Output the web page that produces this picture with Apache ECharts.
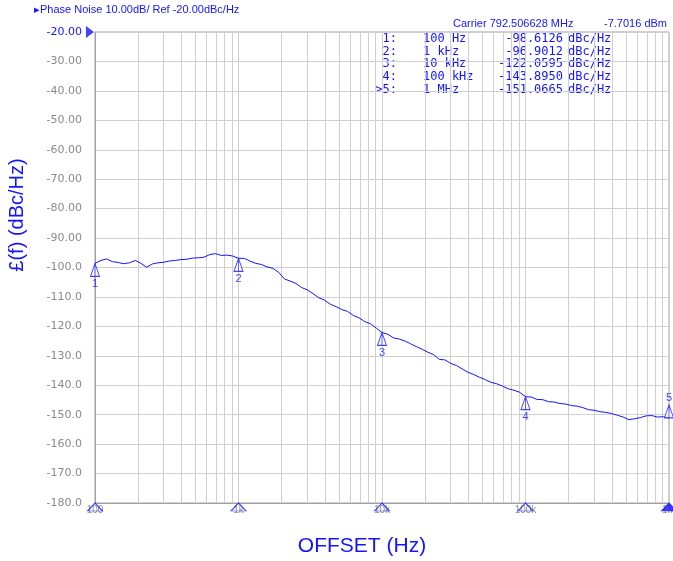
<!DOCTYPE html>
<html><head><meta charset="utf-8">
<script src="https://cdn.jsdelivr.net/npm/echarts@6/dist/echarts.min.js"></script>
<style>html,body{margin:0;padding:0;background:#fff}#c{width:673px;height:561px}</style>
</head><body><div id="c"></div>
<script>
const freqs = [100,110,120,132,145,158,174,191,209,229,251,275,302,331,363,398,437,479,525,575,631,692,759,832,912,
1000,1100,1200,1320,1450,1580,1740,1910,2090,2290,2510,2750,3020,3310,3630,3980,4370,4790,5250,5750,6310,6920,7590,8320,9120,
10000,11000,12000,13200,14500,15800,17400,19100,20900,22900,25100,27500,30200,33100,36300,39800,43700,47900,52500,57500,63100,69200,75900,83200,91200,
100000,110000,120000,132000,145000,158000,174000,191000,209000,229000,251000,275000,302000,331000,363000,398000,437000,479000,525000,575000,631000,692000,759000,832000,912000,
1000000];
const noise = [-98.6,-97.6,-97.1,-98.0,-98.3,-98.7,-98.4,-97.6,-98.6,-99.9,-98.8,-98.4,-98.2,-97.8,-97.6,-97.3,-97.2,-96.8,-96.7,-96.5,-95.6,-95.3,-95.9,-95.8,-96.1,
-96.9,-96.9,-97.8,-98.6,-99.0,-99.8,-100.3,-101.7,-103.9,-104.6,-105.4,-106.8,-107.6,-108.9,-110.3,-111.1,-112.5,-113.3,-114.3,-114.9,-116.3,-117.1,-118.4,-119.1,-120.6,
-122.1,-122.7,-123.9,-124.3,-125.0,-125.9,-126.9,-127.8,-128.8,-129.6,-131.2,-131.4,-132.6,-133.3,-134.5,-135.6,-136.4,-137.3,-138.1,-139.0,-139.5,-140.3,-141.2,-141.7,-142.4,
-143.9,-144.0,-144.8,-144.9,-145.6,-145.7,-146.2,-146.4,-146.9,-147.1,-147.6,-148.3,-148.5,-149.0,-149.2,-149.6,-150.2,-150.8,-151.7,-151.4,-151.0,-150.4,-150.3,-150.8,-150.7,-151.1];
const markerFreqs = [100,1000,10000,100000,1000000];
const markerVals = [-98.6126,-96.9012,-122.0595,-143.8950,-151.0665];
const markerIdx = ['1:','2:','3:','4:','>5:'];
const markerFreqText = ['100 Hz','1 kHz','10 kHz','100 kHz','1 MHz'];
const markerValText = ['-98.6126','-96.9012','-122.0595','-143.8950','-151.0665'];
const xTickText = {100:'100',1000:'1k',10000:'10k',100000:'100k',1000000:'1M'};
const minorGrid = [200,300,400,500,600,700,800,900,2000,3000,4000,5000,6000,7000,8000,9000,
20000,30000,40000,50000,60000,70000,80000,90000,200000,300000,400000,500000,600000,700000,800000,900000];
const yMin = -180, yMax = -20, yStep = 10;

const BLUE = '#1414ff';
const GRID = '#cfcfcf';
const chart = echarts.init(document.getElementById('c'));

const tri = 'path://M5,0 L10,12 L0,12 Z M5,0 L5,12';
const markerData = markerFreqs.map((f,i)=>{
  const last = i === markerFreqs.length-1;
  return {
    value:[f, markerVals[i]],
    symbolOffset: last ? [0,'-50%'] : [0,'50%'],
    label:{position: last ? 'top' : 'bottom', distance: 1}
  };
});
const axisMarkData = markerFreqs.map((f,i)=>({
  value:[f, yMin],
  itemStyle:{color: i===markerFreqs.length-1 ? BLUE : 'rgba(0,0,0,0)'}
}));

const tableTexts = [];
markerIdx.forEach((t,i)=>{
  const y = 40 + i*12.6;
  tableTexts.push({type:'text', right:673-397, top:y-7, style:{text:t, fill:BLUE, font:'12px "DejaVu Sans Mono"', textAlign:'right'}});
  tableTexts.push({type:'text', left:423, top:y-7, style:{text:markerFreqText[i], fill:BLUE, font:'12px "DejaVu Sans Mono"'}});
  tableTexts.push({type:'text', right:673-563, top:y-7, style:{text:markerValText[i], fill:BLUE, font:'12px "DejaVu Sans Mono"', textAlign:'right'}});
  tableTexts.push({type:'text', left:568, top:y-7, style:{text:'dBc/Hz', fill:BLUE, font:'12px "DejaVu Sans Mono"'}});
});

chart.setOption({
  animation:false,
  backgroundColor:'#fff',
  grid:{left:95, right:4, top:32, bottom:58, show:true, borderColor:'#a0a0a0', borderWidth:1, containLabel:false, outerBoundsMode:'none'},
  xAxis:{
    type:'log', logBase:10, min:100, max:1000000,
    axisLine:{show:true, lineStyle:{color:'#a0a0a0'}},
    axisTick:{show:false},
    splitLine:{show:true, lineStyle:{color:GRID, width:1}},
    axisLabel:{color:'#909090', fontSize:10, fontFamily:'Liberation Sans', margin:2, hideOverlap:false,
      formatter:v=>xTickText[Math.round(v)] || ''}
  },
  yAxis:{
    type:'value', min:yMin, max:yMax, interval:yStep,
    axisLine:{show:true, lineStyle:{color:'#a0a0a0'}},
    axisTick:{show:false},
    splitLine:{show:true, lineStyle:{color:GRID, width:1}},
    axisLabel:{fontSize:11, fontFamily:'DejaVu Sans', margin:13,
      color:v=> Number(v) === yMax ? BLUE : '#8a8a8a',
      formatter:v=> v > -100 ? v.toFixed(2) : v.toFixed(1)}
  },
  graphic:[
    {type:'text', left:34, top:4, style:{text:'\u25B8Phase Noise 10.00dB/ Ref -20.00dBc/Hz', fill:BLUE, font:'11px "Liberation Sans"'}},
    {type:'text', left:453, top:18, style:{text:'Carrier 792.506628 MHz', fill:BLUE, font:'11px "Liberation Sans"'}},
    {type:'text', right:6, top:18, style:{text:'-7.7016 dBm', fill:BLUE, font:'11px "Liberation Sans"', textAlign:'right'}},
    {type:'text', x:17, y:215, rotation:Math.PI/2, style:{text:'\u00A3(f) (dBc/Hz)', fill:BLUE, font:'20px "Liberation Sans"', textAlign:'center', textVerticalAlign:'middle'}},
    {type:'text', x:362, y:546, style:{text:'OFFSET (Hz)', fill:BLUE, font:'21px "Liberation Sans"', textAlign:'center', textVerticalAlign:'middle'}}
  ].concat(tableTexts),
  series:[
    {
      type:'line', data:freqs.map((f,i)=>[f, noise[i]]), showSymbol:false, z:3,
      lineStyle:{color:BLUE, width:1}, silent:true,
      markLine:{silent:true, symbol:'none', label:{show:false}, z:1,
        lineStyle:{color:GRID, type:'solid', width:1},
        data:minorGrid.map(f=>({xAxis:f}))}
    },
    {
      type:'scatter', data:markerData, symbol:tri, symbolSize:[9,13], z:5, clip:false,
      itemStyle:{color:'#fff', borderColor:BLUE, borderWidth:1},
      label:{show:true, color:BLUE, fontSize:11, fontFamily:'Liberation Sans', formatter:p=>String(p.dataIndex+1)}
    },
    {
      type:'scatter', data:axisMarkData, symbol:'triangle', symbolSize:[15,8], symbolOffset:[0,'50%'], z:6, clip:false,
      itemStyle:{borderColor:BLUE, borderWidth:1}
    },
    {
      type:'scatter', data:[[markerFreqs[0], yMax]], symbol:'triangle', symbolSize:[12,8], symbolRotate:-90, symbolOffset:[-5,0], z:6, clip:false,
      itemStyle:{color:BLUE}
    }
  ]
});
</script></body></html>
